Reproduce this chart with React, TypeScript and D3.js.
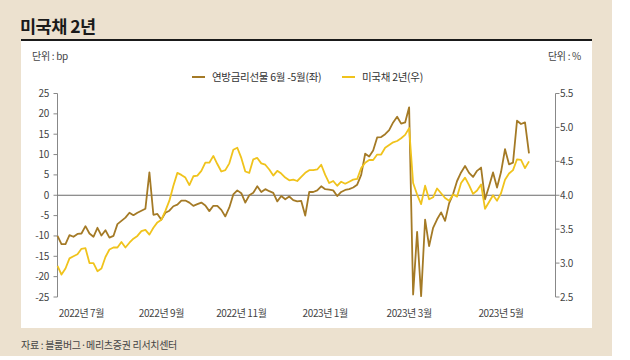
import React from 'react';
import * as d3 from 'd3';

// 연방금리선물 6월-5월 스프레드 (bp, 좌축)
const fedFutures = [
  -10, -12, -12, -9.8, -10.2, -9.5, -9.4, -7.6, -9.4, -10.2,
  -8, -9.9, -8.6, -10.4, -10, -7.1, -6.3, -5.5, -4.3, -4.9,
  -4.3, -3.8, -3.3, 5.6, -4.8, -4.6, -6.0, -4.3, -3.8, -2.7,
  -2.3, -1.3, -1.3, -1.8, -2.6, -2.2, -1.8, -2.5, -3.9, -2.6,
  -2.6, -3.6, -5.2, -3, 0.2, 1.2, 0.5, -1.8, 0, 0.6,
  2.2, 0.8, 1.5, 1.0, 0.6, -1.5, -0.2, -1, -0.3, -1.2,
  -1.5, -1.4, -5, 0.8, 0.8, 1.2, 2.2, 1.5, 1.4, 1.2,
  -0.2, 0.8, 1.3, 1.5, 1.9, 2.6, 5, 10.2, 9.5, 11,
  14.2, 14.3, 15, 16, 17.9, 19.3, 17.6, 17.9, 21.6, -24.4,
  -9, -24.8, -6, -12.5, -8, -5.9, -4.2, -6.3, -2, 0.3,
  3.5, 5.6, 7.2, 5.5, 4.5, 6, 6.8, -1, 2.2, 5.6,
  1.9, 5.7, 11.3, 7.6, 8, 18.3, 17.5, 17.9, 10.3,
];

// 미국채 2년 금리 (%, 우축)
const ust2y = [
  2.96, 2.83, 2.92, 3.07, 3.10, 3.13, 3.21, 3.22, 3.00, 3.00,
  2.88, 2.92, 3.09, 3.20, 3.23, 3.23, 3.31, 3.23, 3.30, 3.36,
  3.40, 3.47, 3.49, 3.42, 3.52, 3.60, 3.64, 3.77, 3.92, 4.14,
  4.33, 4.30, 4.26, 4.15, 4.28, 4.29, 4.36, 4.48, 4.48, 4.58,
  4.46, 4.35, 4.37, 4.47, 4.67, 4.70, 4.55, 4.35, 4.33, 4.53,
  4.55, 4.47, 4.45, 4.38, 4.29, 4.36, 4.32, 4.26, 4.22, 4.23,
  4.21, 4.27, 4.33, 4.37, 4.37, 4.38, 4.45, 4.30, 4.18, 4.21,
  4.14, 4.20, 4.17, 4.20, 4.23, 4.24, 4.40, 4.48, 4.52, 4.52,
  4.60, 4.60, 4.70, 4.74, 4.78, 4.80, 4.84, 4.89, 4.99, 4.18,
  4.01, 3.87, 4.14, 3.94, 3.97, 4.10, 4.03, 3.96, 3.92, 4.01,
  3.98, 4.18, 4.26, 4.15, 4.02, 4.07, 4.16, 3.80, 3.90, 4.00,
  3.92, 4.03, 4.23, 4.32, 4.37, 4.53, 4.52, 4.40, 4.50,
];

const leftTicks = [25, 20, 15, 10, 5, 0, -5, -10, -15, -20, -25];
const rightTicks = [5.5, 5.0, 4.5, 4.0, 3.5, 3.0, 2.5];
const monthLabels = ['2022년 7월', '2022년 9월', '2022년 11월', '2023년 1월', '2023년 3월', '2023년 5월'];
const monthIdx = [6, 26, 46, 67, 88, 111];
const seriesNames = ['연방금리선물 6월 -5월(좌)', '미국채 2년(우)'];

const DARK = '#a47a26';
const YELLOW = '#f0c31c';
const BEIGE = '#ece1cf';
const FONT = "'Noto Sans CJK KR', 'Noto Sans', sans-serif";

export default function App() {
  const W = 630;
  const H = 360;
  const x = d3.scaleLinear().domain([0, fedFutures.length - 1]).range([57.5, 529]);
  const yL = d3.scaleLinear().domain([-25, 25]).range([297, 93.5]);
  const yR = d3.scaleLinear().domain([2.5, 5.5]).range([297, 93.5]);

  const lineL = d3.line<number>().x((_, i) => x(i)).y((d) => yL(d));
  const lineR = d3.line<number>().x((_, i) => x(i)).y((d) => yR(d));

  const axL = 57.5;
  const axR = 555.5;

  return (
    <svg
      width={W}
      height={H}
      style={{ position: 'absolute', left: 0, top: 0, fontFamily: FONT }}
    >
      <rect x={0} y={0} width={W} height={H} fill="#ffffff" />
      <rect x={0} y={0} width={612} height={356} fill={BEIGE} />
      <rect x={21} y={40} width={571} height={288} fill="#ffffff" />
      <line x1={21} x2={592} y1={40} y2={40} stroke="#1a1a1a" strokeWidth={2} />
      <text x={20} y={33} fontSize={17.5} fontWeight={700} fill="#1a1a1a" letterSpacing={-0.5}>
        미국채 2년
      </text>
      <text x={32} y={60} fontSize={10} fill="#444" letterSpacing={-0.3}>
        단위 : bp
      </text>
      <text x={581} y={60} fontSize={10} fill="#444" textAnchor="end" letterSpacing={-0.3}>
        단위 : %
      </text>

      {/* legend */}
      <line x1={192} x2={205} y1={77} y2={77} stroke={DARK} strokeWidth={2} />
      <text x={212} y={81} fontSize={10.5} fill="#333" letterSpacing={-0.3}>
        {seriesNames[0]}
      </text>
      <line x1={342} x2={355} y1={77} y2={77} stroke={YELLOW} strokeWidth={2} />
      <text x={362} y={81} fontSize={10.5} fill="#333" letterSpacing={-0.3}>
        {seriesNames[1]}
      </text>

      {/* left axis */}
      <line x1={axL} x2={axL} y1={yL(25)} y2={yL(-25)} stroke="#888" strokeWidth={1} />
      {leftTicks.map((t) => (
        <g key={'l' + t}>
          <line x1={axL - 4} x2={axL} y1={yL(t)} y2={yL(t)} stroke="#888" strokeWidth={1} />
          <text x={49} y={yL(t) + 3.5} fontSize={10} fill="#444" textAnchor="end" letterSpacing={-0.3}>
            {t}
          </text>
        </g>
      ))}

      {/* right axis */}
      <line x1={axR} x2={axR} y1={yR(5.5)} y2={yR(2.5)} stroke="#888" strokeWidth={1} />
      {rightTicks.map((t) => (
        <g key={'r' + t}>
          <line x1={axR} x2={axR + 4} y1={yR(t)} y2={yR(t)} stroke="#888" strokeWidth={1} />
          <text x={560} y={yR(t) + 3.5} fontSize={10} fill="#444" letterSpacing={-0.3}>
            {t.toFixed(1)}
          </text>
        </g>
      ))}

      {/* zero line */}
      <line x1={axL} x2={axR} y1={yL(0)} y2={yL(0)} stroke="#6b6b6b" strokeWidth={1} />

      {/* x labels */}
      {monthLabels.map((m, i) => (
        <text key={m} x={x(monthIdx[i])} y={317} fontSize={10} fill="#444" textAnchor="middle" letterSpacing={-0.4}>
          {m}
        </text>
      ))}

      <path d={lineL(fedFutures) ?? ''} fill="none" stroke={DARK} strokeWidth={1.8} strokeLinejoin="round" />
      <path d={lineR(ust2y) ?? ''} fill="none" stroke={YELLOW} strokeWidth={1.8} strokeLinejoin="round" />

      <text x={21} y={349} fontSize={10} fill="#444" letterSpacing={-0.3}>
        자료 : 블룸버그·메리츠증권 리서치센터
      </text>
    </svg>
  );
}
